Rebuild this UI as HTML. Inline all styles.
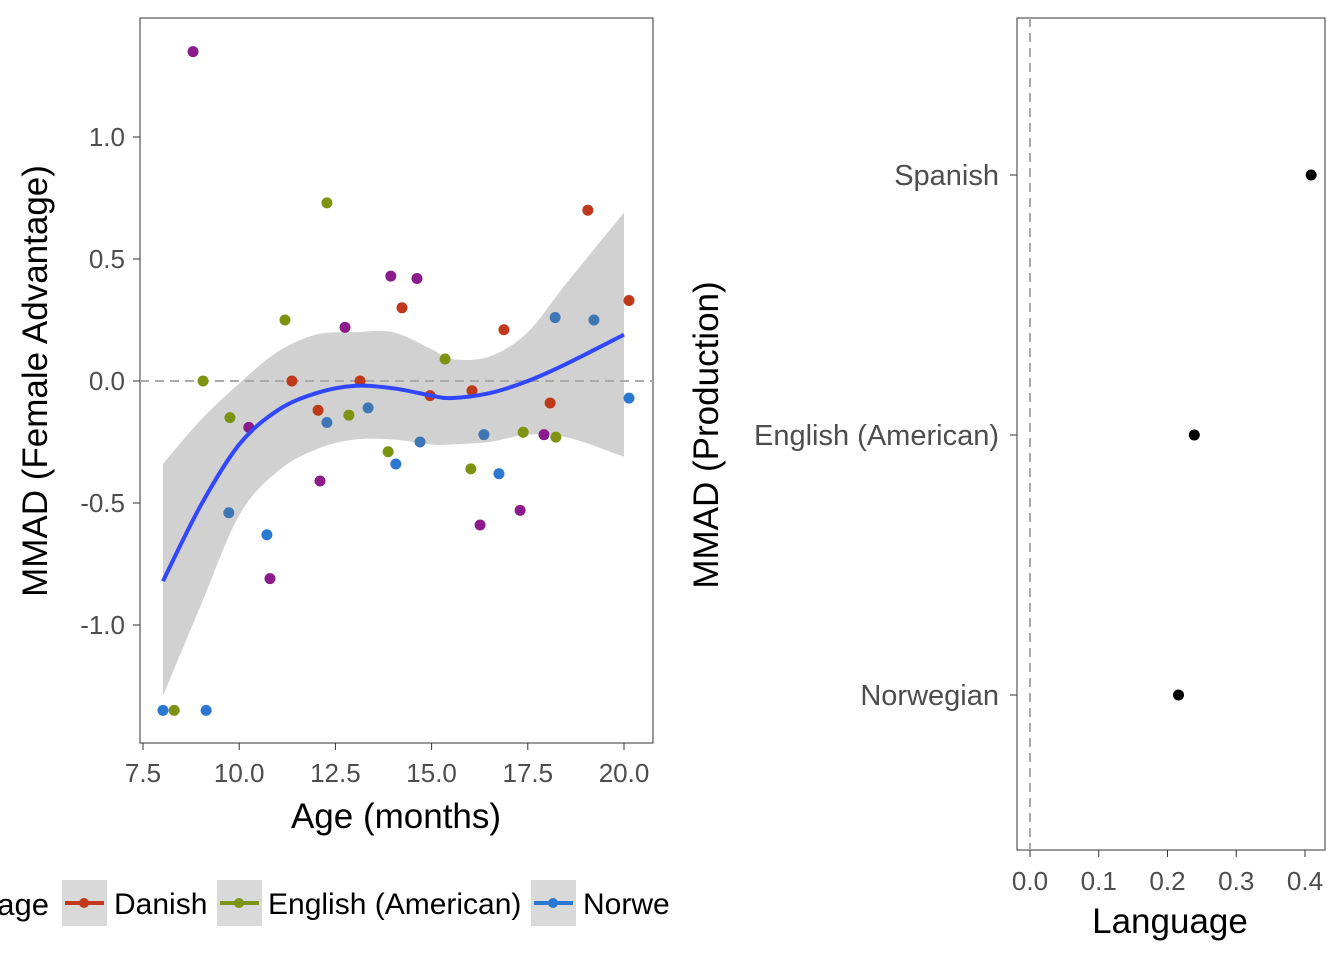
<!DOCTYPE html>
<html><head><meta charset="utf-8"><style>
body{margin:0;background:#fff;}
svg text{font-family:"Liberation Sans","DejaVu Sans",sans-serif;}
</style></head><body>
<svg id="c" width="1344" height="960" xmlns="http://www.w3.org/2000/svg"></svg>
<script>
const ages=[8.80,12.28,19.06,13.94,14.62,14.23,20.13,11.19,12.75,16.88,18.21,19.22,15.35,9.06,11.37,13.14,14.96,16.05,20.13,18.08,9.76,10.25,12.05,12.28,12.85,13.35,13.87,14.70,16.36,17.38,17.92,18.23,14.07,16.02,16.75,12.10,9.73,16.26,17.30,10.72,10.80,8.02,8.31,9.14];
const mmad=[1.35,0.73,0.70,0.43,0.42,0.30,0.33,0.25,0.22,0.21,0.26,0.25,0.09,0.0,0.0,0.0,-0.06,-0.04,-0.07,-0.09,-0.15,-0.19,-0.12,-0.17,-0.14,-0.11,-0.29,-0.25,-0.22,-0.21,-0.22,-0.23,-0.34,-0.36,-0.38,-0.41,-0.54,-0.59,-0.53,-0.63,-0.81,-1.35,-1.35,-1.35];
const langs=["P","G","R","P","P","R","R","G","P","R","B","B","G","G","R","R","R","R","N","R","G","P","R","B","G","B","G","B","B","G","P","G","N","G","N","P","B","P","P","N","P","N","G","N"];
const smoothX=[8.02,9,10,11,12,13,14,15,15.5,16.5,17.5,18.5,20];
const smoothY=[-0.82,-0.51,-0.26,-0.12,-0.05,-0.02,-0.03,-0.06,-0.07,-0.05,0.0,0.07,0.19];
const upperY=[-0.34,-0.16,-0.01,0.12,0.19,0.2,0.2,0.13,0.09,0.1,0.2,0.4,0.69];
const lowerY=[-1.29,-0.92,-0.55,-0.37,-0.28,-0.24,-0.24,-0.26,-0.26,-0.25,-0.22,-0.23,-0.31];
const xTicks=[7.5,10,12.5,15,17.5,20];
const yTicks=[-1,-0.5,0,0.5,1];
const rLangs=["Spanish","English (American)","Norwegian"];
const rVals=[0.409,0.239,0.216];
const rTicks=[0,0.1,0.2,0.3,0.4];
const legendLabels=["Danish","English (American)","Norwe"];
const legendColors=["#c0391b","#7c9412","#2a78d0"];
const col={R:"#c0391b",G:"#7c9412",N:"#2a78d0",P:"#8b1a8b",B:"#3f77b5"};
const X=v=>143+(v-7.5)*38.48, Y=v=>381-v*244;
const RX=v=>1030+v*687.5, RY=i=>175+i*260;
function smoothPath(pts,move){let d=(move?'M':'L')+pts[0][0]+','+pts[0][1];
for(let i=0;i<pts.length-1;i++){const p0=pts[i-1]||pts[i],p1=pts[i],p2=pts[i+1],p3=pts[i+2]||p2;
d+=`C${p1[0]+(p2[0]-p0[0])/6},${p1[1]+(p2[1]-p0[1])/6} ${p2[0]-(p3[0]-p1[0])/6},${p2[1]-(p3[1]-p1[1])/6} ${p2[0]},${p2[1]}`;}return d;}
const s=document.getElementById('c');let h='';
const t=(x,y,str,size,anchor,extra,name)=>`<text x="${x}" y="${y}" font-size="${size}" text-anchor="${anchor}" fill="${extra||'#4d4d4d'}">${str}</text>`;
h+=`<rect x="140" y="18" width="513" height="725" fill="#fff" stroke="#333" stroke-width="1"/>`;
const up=smoothX.map((x,i)=>[X(x),Y(upperY[i])]), lo=smoothX.map((x,i)=>[X(x),Y(lowerY[i])]).reverse();
h+=`<path d="${smoothPath(up,true)+smoothPath(lo,false)}Z" fill="#999" fill-opacity="0.45"/>`;
h+=`<line x1="140" x2="653" y1="${Y(0)}" y2="${Y(0)}" stroke="#aaa" stroke-width="2" stroke-dasharray="9,6"/>`;
ages.forEach((a,i)=>{h+=`<circle cx="${X(a)}" cy="${Y(mmad[i])}" r="5.5" fill="${col[langs[i]]}"/>`;});
h+=`<path d="${smoothPath(smoothX.map((x,i)=>[X(x),Y(smoothY[i])]),true)}" fill="none" stroke="#3047ff" stroke-width="4"/>`;
xTicks.forEach(v=>{h+=`<line x1="${X(v)}" x2="${X(v)}" y1="743" y2="750" stroke="#333"/>`+t(X(v),782,v.toFixed(1),26,'middle',null,'x-tick-label');});
yTicks.forEach(v=>{h+=`<line x1="133" x2="140" y1="${Y(v)}" y2="${Y(v)}" stroke="#333"/>`+t(125,Y(v)+9,v.toFixed(1),26,'end',null,'y-tick-label');});
h+=t(396,828,'Age (months)',35,'middle','#000','x-axis-title');
h+=`<text transform="translate(47,381) rotate(-90)" font-size="35" text-anchor="middle" fill="#000">MMAD (Female Advantage)</text>`;
h+=t(49,915,'age',31,'end','#000','legend-title');
const lx=[62,217,531],tx=[114,268,583];
legendLabels.forEach((l,i)=>{h+=`<rect x="${lx[i]}" y="880" width="45" height="46" fill="#d9d9d9"/><line x1="${lx[i]+3}" x2="${lx[i]+42}" y1="903" y2="903" stroke="${legendColors[i]}" stroke-width="4"/><circle cx="${lx[i]+22}" cy="903" r="5" fill="${legendColors[i]}"/>`+t(tx[i],914,l,30,'start','#000','legend-label');});
h+=`<rect x="1017" y="18" width="308" height="832" fill="#fff" stroke="#333"/>`;
h+=`<line x1="${RX(0)}" x2="${RX(0)}" y1="18" y2="850" stroke="#aaa" stroke-width="2" stroke-dasharray="9,6"/>`;
rLangs.forEach((l,i)=>{h+=`<circle cx="${RX(rVals[i])}" cy="${RY(i)}" r="5.5" fill="#000"/><line x1="1010" x2="1017" y1="${RY(i)}" y2="${RY(i)}" stroke="#333"/>`+t(999,RY(i)+10,l,29,'end',null,'y-tick-label');});
rTicks.forEach(v=>{h+=`<line x1="${RX(v)}" x2="${RX(v)}" y1="850" y2="857" stroke="#333"/>`+t(RX(v),890,v.toFixed(1),26,'middle',null,'x-tick-label');});
h+=t(1170,933,'Language',35,'middle','#000','right-x-axis-title');
h+=`<text transform="translate(718,435) rotate(-90)" font-size="35" text-anchor="middle" fill="#000">MMAD (Production)</text>`;
s.innerHTML=h;
</script>
</body></html>
